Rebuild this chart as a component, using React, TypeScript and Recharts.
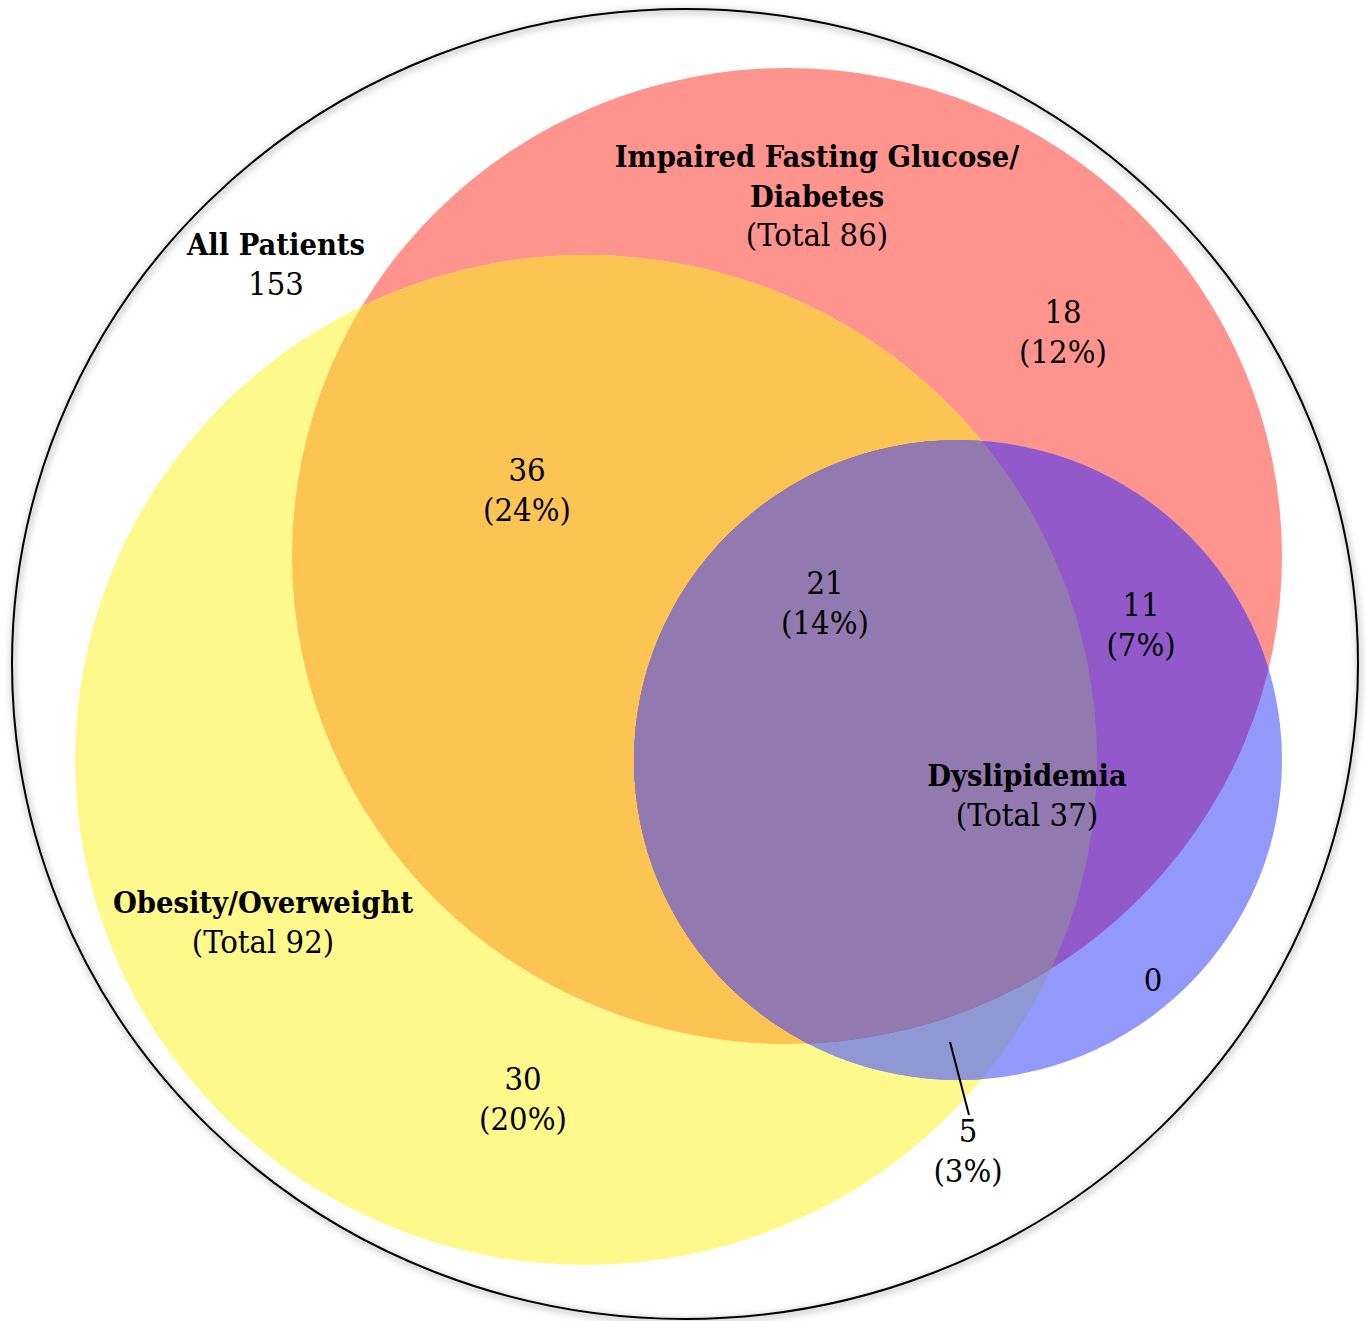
import React from "react";
import { ScatterChart, Scatter, XAxis, YAxis } from "recharts";

const W = 1366;
const H = 1321;

// ---- data ----
const allPatients = 153;
const setNames = ["Impaired Fasting Glucose/Diabetes", "Obesity/Overweight", "Dyslipidemia"];
const setTotals = [86, 92, 37];
const regionNames = ["IFG only", "IFG+Obesity", "All three", "IFG+Dyslipidemia", "Dyslipidemia only", "Obesity only", "Obesity+Dyslipidemia"];
const regionCounts = [18, 36, 21, 11, 0, 30, 5];
const regionPercents = ["12%", "24%", "14%", "7%", "", "20%", "3%"];

// ---- layout (diagram coordinates) ----
const outerShape = { x: 685, y: 664, rx: 673, ry: 655 };
const circleShapes = [
  { id: "red", x: 787, y: 556, rx: 495, ry: 488, fill: "#FF938D" },
  { id: "yellow", x: 586, y: 760, rx: 511, ry: 505, fill: "#FFF98C" },
  { id: "blue", x: 958, y: 760, rx: 324, ry: 320, fill: "#9399FA" },
];
const overlapShapes = [
  { base: "yellow", clips: ["red"], fill: "#FCC553" },
  { base: "blue", clips: ["yellow"], fill: "#8F98D2" },
  { base: "blue", clips: ["red"], fill: "#9259CB" },
  { base: "blue", clips: ["red", "yellow"], fill: "#9279AF" },
];
const setLabelPos = [
  { x: 817, y: 167 },
  { x: 263, y: 913 },
  { x: 1027, y: 786 },
];
const regionLabelPos = [
  { x: 1063, y: 323 },
  { x: 527, y: 481 },
  { x: 825, y: 594 },
  { x: 1141, y: 616 },
  { x: 1153, y: 991 },
  { x: 523, y: 1090 },
  { x: 968, y: 1142 },
];
const leader = [{ x: 950, y: 1042 }, { x: 969, y: 1115 }];

const FONT = "'DejaVu Serif Condensed', 'DejaVu Serif', serif";
const FS_BOLD = 30.5;
const FS_NORM = 32.5;
const LH = 39.5;

const sx = W / W;
const sy = H / H;

const circleById: Record<string, any> = {};
circleShapes.forEach((c) => (circleById[c.id] = c));

const baseData = circleShapes.map((c) => ({ ...c }));
const overlapData = overlapShapes.map((o) => {
  const c = circleById[o.base];
  return { ...o, x: c.x, y: c.y, rx: c.rx, ry: c.ry };
});
const outerData = [{ ...outerShape }];

const labelData: any[] = [];
labelData.push({
  x: 276,
  y: 255,
  lines: [
    { t: "All Patients", b: true },
    { t: String(allPatients), b: false },
  ],
});
setNames.forEach((n, i) => {
  const lines: any[] = [];
  if (i === 0) {
    lines.push({ t: "Impaired Fasting Glucose/", b: true });
    lines.push({ t: "Diabetes", b: true });
  } else {
    lines.push({ t: n, b: true });
  }
  lines.push({ t: `(Total ${setTotals[i]})`, b: false });
  labelData.push({ x: setLabelPos[i].x, y: setLabelPos[i].y, lines });
});
regionNames.forEach((n, i) => {
  const lines: any[] = [{ t: String(regionCounts[i]), b: false }];
  if (regionPercents[i]) lines.push({ t: `(${regionPercents[i]})`, b: false });
  labelData.push({ x: regionLabelPos[i].x, y: regionLabelPos[i].y, lines, name: n });
});

const BaseShape = (props: any) => {
  const { cx, cy, payload } = props;
  return (
    <g>
      <defs>
        <clipPath id={`clip-${payload.id}`}>
          <ellipse cx={cx} cy={cy} rx={payload.rx * sx} ry={payload.ry * sy} />
        </clipPath>
      </defs>
      <ellipse cx={cx} cy={cy} rx={payload.rx * sx} ry={payload.ry * sy} fill={payload.fill} />
    </g>
  );
};

const OverlapShape = (props: any) => {
  const { cx, cy, payload } = props;
  let el: any = (
    <ellipse cx={cx} cy={cy} rx={payload.rx * sx} ry={payload.ry * sy} fill={payload.fill} />
  );
  payload.clips.forEach((c: string) => {
    el = <g clipPath={`url(#clip-${c})`}>{el}</g>;
  });
  return el;
};

const OuterShape = (props: any) => {
  const { cx, cy, payload } = props;
  return (
    <g>
      <defs>
        <filter id="outerBlur" x="-5%" y="-5%" width="110%" height="110%">
          <feGaussianBlur stdDeviation="3" />
        </filter>
      </defs>
      <ellipse
        cx={cx + 1}
        cy={cy + 2}
        rx={payload.rx * sx}
        ry={payload.ry * sy}
        fill="none"
        stroke="#000"
        strokeOpacity={0.18}
        strokeWidth={6}
        filter="url(#outerBlur)"
      />
      <ellipse cx={cx} cy={cy} rx={payload.rx * sx} ry={payload.ry * sy} fill="none" stroke="#000" strokeWidth={2} />
    </g>
  );
};

const LabelShape = (props: any) => {
  const { cx, cy, payload } = props;
  return (
    <g>
      {payload.lines.map((l: any, i: number) => (
        <text
          key={i}
          x={cx}
          y={cy + i * LH}
          textAnchor="middle"
          fontFamily={FONT}
          fontSize={l.b ? FS_BOLD : FS_NORM}
          fontWeight={l.b ? 700 : 400}
          fill="#000"
        >
          {l.t}
        </text>
      ))}
    </g>
  );
};

const NoDot = () => <g />;

export default function App() {
  return (
    <div style={{ position: "absolute", left: 0, top: 0, width: W, height: H, background: "#fff" }}>
      <ScatterChart width={W} height={H} margin={{ top: 0, right: 0, bottom: 0, left: 0 }}>
        <XAxis type="number" dataKey="x" domain={[0, W]} hide allowDataOverflow />
        <YAxis type="number" dataKey="y" domain={[0, H]} reversed hide allowDataOverflow />
        <Scatter data={baseData} shape={BaseShape} isAnimationActive={false} />
        <Scatter data={overlapData} shape={OverlapShape} isAnimationActive={false} />
        <Scatter data={outerData} shape={OuterShape} isAnimationActive={false} />
        <Scatter
          data={leader}
          shape={NoDot}
          line={{ stroke: "#000", strokeWidth: 2 }}
          isAnimationActive={false}
        />
        <Scatter data={labelData} shape={LabelShape} isAnimationActive={false} />
      </ScatterChart>
    </div>
  );
}
